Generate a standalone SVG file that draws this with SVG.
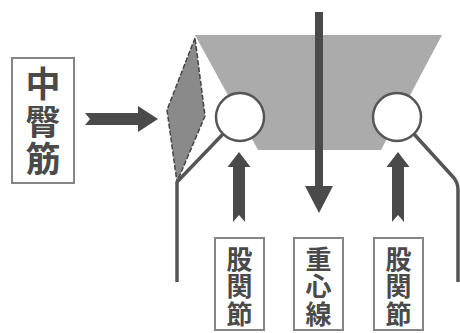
<svg xmlns="http://www.w3.org/2000/svg" width="460" height="333" viewBox="0 0 460 333">
<defs>
<style>
.lbl{fill:#ffffff;stroke:#858585;stroke-width:2}
.t{font-family:"Noto Sans CJK JP","Noto Sans CJK SC",sans-serif;font-weight:bold;fill:#4a4a4a;text-anchor:middle}
.arr{fill:#4a4a4a}
.limb{fill:none;stroke:#555555;stroke-width:3.5;stroke-linejoin:round}
.joint{fill:#ffffff;stroke:#555555;stroke-width:2.5}
</style>
</defs>
<rect width="460" height="333" fill="#ffffff"/>
<g id="pelvis">
<polygon points="195,35 442,35 381,150 258,150" fill="#ababab"/>
</g>
<g id="gluteus-medius-muscle">
<polygon points="195,38 167,110 177,182 205,116" fill="#8a8a8a" stroke="#444444" stroke-width="1.5" stroke-dasharray="5,2"/>
</g>
<g id="connectors">
<path class="limb" d="M224,133 L177,182 L177,282"/>
<path class="limb" d="M413,133 L454,178 Q458,183 458,190 L458,282"/>
<polygon class="arr" points="85,113 138,113 138,106 158,119 138,132 138,125 85,125 90,119"/>
<polygon class="arr" points="239,152 250.5,167 245,167 245,222 239,215 233,222 233,167 227.5,167"/>
<polygon class="arr" points="398,152 409.5,167 404,167 404,222 398,215 392,222 392,167 386.5,167"/>
<polygon class="arr" points="315,12 323,12 323,186 333,186 319,213 305,186 315,186"/>
</g>
<g id="hip-left">
<circle class="joint" cx="240" cy="117" r="24"/>
</g>
<g id="hip-right">
<circle class="joint" cx="397" cy="117" r="24"/>
</g>
<g id="label-gluteus">
<rect class="lbl" x="12" y="58" width="62" height="125"/>
<text class="t" font-size="35" x="43" y="97">中</text>
<text class="t" font-size="35" x="43" y="135">臀</text>
<text class="t" font-size="35" x="43" y="172">筋</text>
</g>
<g id="label-hip-left">
<rect class="lbl" x="215" y="238" width="49" height="92"/>
<text class="t" font-size="26" x="239.5" y="269">股</text>
<text class="t" font-size="26" x="239.5" y="296">関</text>
<text class="t" font-size="26" x="239.5" y="324">節</text>
</g>
<g id="label-gravity">
<rect class="lbl" x="294" y="238" width="49" height="92"/>
<text class="t" font-size="26" x="318.5" y="269">重</text>
<text class="t" font-size="26" x="318.5" y="296">心</text>
<text class="t" font-size="26" x="318.5" y="324">線</text>
</g>
<g id="label-hip-right">
<rect class="lbl" x="374" y="238" width="49" height="92"/>
<text class="t" font-size="26" x="398.5" y="269">股</text>
<text class="t" font-size="26" x="398.5" y="296">関</text>
<text class="t" font-size="26" x="398.5" y="324">節</text>
</g>
</svg>
